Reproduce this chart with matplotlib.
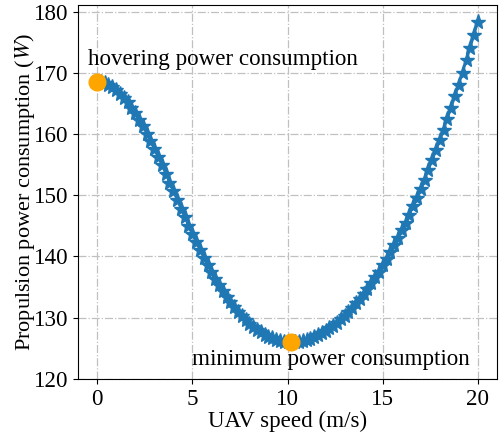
import matplotlib
matplotlib.use("Agg")
import matplotlib.pyplot as plt
import numpy as np

plt.rcParams['font.family'] = ['Liberation Serif', 'DejaVu Serif']
plt.rcParams['mathtext.fontset'] = 'stix'

# UAV speed samples (m/s)
speed = [round(0.2 * i, 1) for i in range(101)]
# Propulsion power (W)
power = [
    168.49, 168.44, 168.28, 168.01, 167.64, 167.16, 166.59, 165.92, 165.15, 164.29,
    163.35, 162.33, 161.23, 160.07, 158.84, 157.56, 156.23, 154.86, 153.47, 152.05,
    150.63, 149.20, 147.77, 146.36, 144.97, 143.61, 142.29, 141.00, 139.75, 138.56,
    137.41, 136.32, 135.28, 134.30, 133.37, 132.50, 131.69, 130.93, 130.24, 129.59,
    129.01, 128.48, 128.00, 127.58, 127.21, 126.89, 126.62, 126.40, 126.23, 126.10,
    126.03, 126.01, 126.03, 126.09, 126.21, 126.36, 126.56, 126.81, 127.10, 127.43,
    127.81, 128.23, 128.69, 129.19, 129.74, 130.33, 130.96, 131.63, 132.35, 133.11,
    133.91, 134.75, 135.64, 136.56, 137.53, 138.55, 139.60, 140.70, 141.84, 143.03,
    144.26, 145.53, 146.84, 148.20, 149.61, 151.06, 152.55, 154.09, 155.67, 157.30,
    158.97, 160.69, 162.46, 164.27, 166.13, 168.04, 170.00, 172.00, 174.05, 176.15,
    178.30,
]
hover_point = (0.0, 168.49)
min_point = (10.2, 126.01)
hover_label = "hovering power consumption"
min_label = "minimum power consumption"

FS = 16.6

fig = plt.figure(figsize=(5.0, 4.34), dpi=100)
ax = fig.add_axes([0.156, 0.127, 0.838, 0.862])

ax.plot(speed, power, marker='*', color='#1f77b4', markersize=11, linewidth=1.5, zorder=3)
ax.plot([hover_point[0]], [hover_point[1]], 'o', color='orange', markersize=12, zorder=4)
ax.plot([min_point[0]], [min_point[1]], 'o', color='orange', markersize=12, zorder=4)

ax.text(-0.45, 171.3, hover_label, fontsize=FS, ha='left', va='baseline')
ax.text(5.0, 122.3, min_label, fontsize=FS, ha='left', va='baseline')

ax.set_xlim(-1, 21)
ax.set_ylim(120, 181.1)
ax.set_xticks([0, 5, 10, 15, 20])
ax.set_yticks([120, 130, 140, 150, 160, 170, 180])
ax.tick_params(labelsize=FS)
ax.set_xlabel("UAV speed (m/s)", fontsize=FS, labelpad=1)
ax.set_ylabel("Propulsion power consumption ($W$)", fontsize=16.0)
ax.yaxis.set_label_coords(-0.098, 0.5)
ax.grid(True, linestyle='-.', color='#c0c0c0', linewidth=0.9)
ax.set_axisbelow(True)

fig.savefig("out.png", dpi=100)
